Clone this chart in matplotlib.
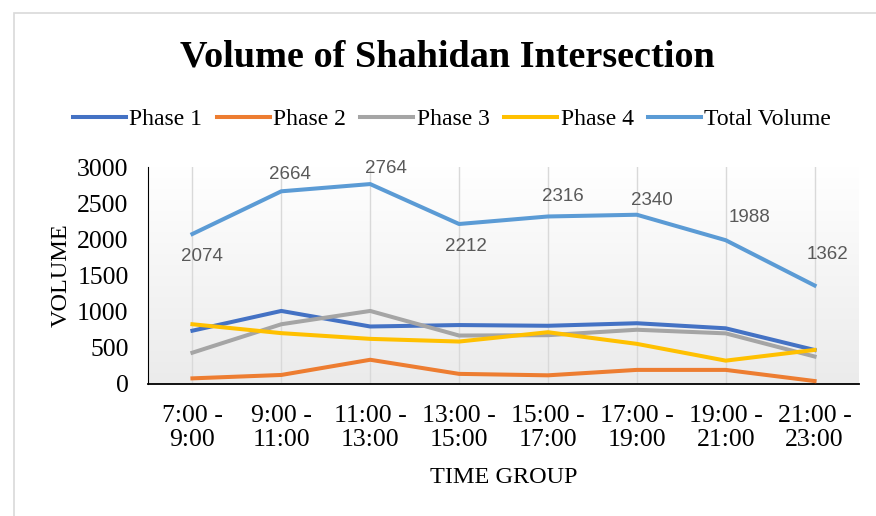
import matplotlib
matplotlib.use("Agg")
import matplotlib.pyplot as plt
import numpy as np
from matplotlib.colors import LinearSegmentedColormap
from matplotlib.patches import Rectangle

time_groups = ["7:00 -\n9:00", "9:00 -\n11:00", "11:00 -\n13:00", "13:00 -\n15:00",
               "15:00 -\n17:00", "17:00 -\n19:00", "19:00 -\n21:00", "21:00 -\n23:00"]
phase1 = [737, 1010, 795, 815, 805, 840, 770, 470]
phase2 = [78, 125, 335, 140, 120, 195, 195, 41]
phase3 = [433, 826, 1010, 670, 675, 750, 700, 380]
phase4 = [826, 703, 624, 587, 716, 555, 323, 471]
total = [2074, 2664, 2764, 2212, 2316, 2340, 1988, 1362]

# label offsets (points) for the total-volume labels, as Excel placed them
label_offsets = [(6.5, -16), (6, 12), (11, 11), (5, -16.5), (11, 14.5), (11, 10), (17, 16), (9, 22.5)]

plt.rcParams["font.family"] = ["Liberation Serif", "DejaVu Serif"]

fig = plt.figure(figsize=(8.76, 5.16), dpi=100)
fig.patches.append(Rectangle((14 / 876, -0.05), 1.1, 1.05 - 13 / 516, transform=fig.transFigure,
                             fill=False, edgecolor="#d9d9d9", linewidth=1.2))

ax = fig.add_axes([148 / 876, 132 / 516, 711 / 876, 217 / 516])
x = np.arange(len(time_groups))

# light gradient background like the Excel plot area (white top, grey bottom)
grad = np.linspace(0.0, 1.0, 256).reshape(-1, 1)
bg = LinearSegmentedColormap.from_list("bg", ["#ebebeb", "#ffffff"])
ax.imshow(grad, aspect="auto", cmap=bg, extent=(-0.5, 7.5, 0, 3000), origin="lower", zorder=0)

series = [("Phase 1", phase1, "#4472C4"), ("Phase 2", phase2, "#ED7D31"),
          ("Phase 3", phase3, "#A5A5A5"), ("Phase 4", phase4, "#FFC000"),
          ("Total Volume", total, "#5B9BD5")]
for name, vals, col in series:
    ax.plot(x, vals, color=col, linewidth=2.9, label=name, zorder=3)

for xi, v, off in zip(x, total, label_offsets):
    ax.annotate(str(v), (xi, v), xytext=off, textcoords="offset points", ha="center",
                va="center", fontsize=13.5, color="#595959", family="Liberation Sans", zorder=4)

ax.set_xlim(-0.5, 7.5)
ax.set_ylim(0, 3000)
ax.set_yticks(range(0, 3001, 500))
ax.set_xticks(x)
ax.set_xticklabels(time_groups, linespacing=1.15)
ax.tick_params(axis="both", length=0, labelsize=18.5, colors="black")
ax.tick_params(axis="x", pad=15)
ax.tick_params(axis="y", pad=14)
for xi in x:
    ax.axvline(xi, color="#d9d9d9", linewidth=1, zorder=1)
for s in ["top", "right"]:
    ax.spines[s].set_visible(False)
ax.spines["left"].set_color("black")
ax.spines["bottom"].set_color("black")
ax.spines["bottom"].set_linewidth(1.3)

ax.set_xlabel("TIME GROUP", fontsize=17.5, labelpad=11)
ax.set_ylabel("VOLUME", fontsize=17.5, labelpad=4)

fig.text(0.511, 0.889, "Volume of Shahidan Intersection", ha="center", va="center",
         fontsize=27.5, fontweight="bold")
fig.legend(loc="center", bbox_to_anchor=(0.516, 0.769), ncol=5, frameon=False, fontsize=17,
           handlelength=2.25, handletextpad=0.15, columnspacing=0.6)

fig.savefig("out.png", dpi=100)
